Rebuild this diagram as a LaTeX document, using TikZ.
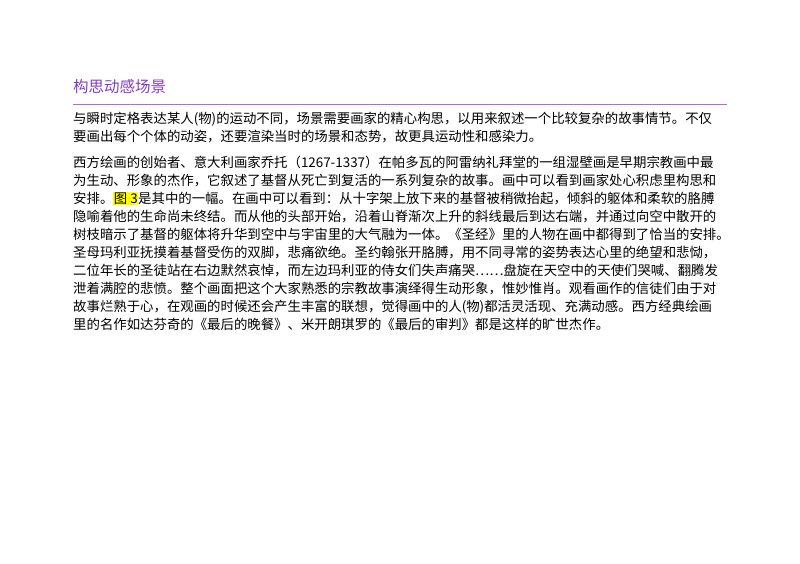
\documentclass[tikz,border=0pt]{standalone}
\usepackage{fontspec}
\setmainfont{Liberation Serif}
\newfontfamily\cjk{Noto Sans CJK SC}
\usetikzlibrary{positioning}
\definecolor{titlepurple}{RGB}{130,60,200}
\definecolor{rulepurple}{RGB}{170,110,220}
\definecolor{hl}{RGB}{255,255,0}
\tikzset{body/.style={anchor=base west, inner sep=0pt, font=\cjk\fontsize{13.4}{17}\selectfont},
  head/.style={anchor=base west, inner sep=0pt, text=titlepurple, font=\cjk\fontsize{15.5}{18}\selectfont}}

\begin{document}
\begin{tikzpicture}[x=1pt, y=-1pt]
\useasboundingbox (0,0) rectangle (800,563);

				\node[head] (title) at (73,92) {构思动感场景};
				\draw[rulepurple, line width=0.9pt] (73,104) coordinate (rs) -- (727,104) coordinate (re);

				% first paragraph
				\node[body] (p1a) at (73,123) {与瞬时定格表达某人(物)的运动不同，场景需要画家的精心构思，以用来叙述一个比较复杂的故事情节。不仅};
				\node[body] (p1b) at (73,141) {要画出每个个体的动姿，还要渲染当时的场景和态势，故更具运动性和感染力。};

				% second paragraph
				\node[body] (p2a) at (73,167) {西方绘画的创始者、意大利画家乔托（1267-1337）在帕多瓦的阿雷纳礼拜堂的一组湿壁画是早期宗教画中最};
				\node[body] (p2b) at (73,185) {为生动、形象的杰作，它叙述了基督从死亡到复活的一系列复杂的故事。画中可以看到画家处心积虑里构思和};
				\node[body] (p2c) at (73,203) {安排。{\fboxsep=0.5pt\colorbox{hl}{图\ 3}}是其中的一幅。在画中可以看到：从十字架上放下来的基督被稍微抬起，倾斜的躯体和柔软的胳膊};
				\node[body] (p2d) at (73,221) {隐喻着他的生命尚未终结。而从他的头部开始，沿着山脊渐次上升的斜线最后到达右端，并通过向空中散开的};
				\node[body] (p2e) at (73,239) {树枝暗示了基督的躯体将升华到空中与宇宙里的大气融为一体。《圣经》里的人物在画中都得到了恰当的安排。};
				\node[body] (p2f) at (73,257) {圣母玛利亚抚摸着基督受伤的双脚，悲痛欲绝。圣约翰张开胳膊，用不同寻常的姿势表达心里的绝望和悲恸，};
				\node[body] (p2g) at (73,275) {二位年长的圣徒站在右边默然哀悼，而左边玛利亚的侍女们失声痛哭……盘旋在天空中的天使们哭喊、翻腾发};
				\node[body] (p2h) at (73,293) {泄着满腔的悲愤。整个画面把这个大家熟悉的宗教故事演绎得生动形象，惟妙惟肖。观看画作的信徒们由于对};
				\node[body] (p2i) at (73,311) {故事烂熟于心，在观画的时候还会产生丰富的联想，觉得画中的人(物)都活灵活现、充满动感。西方经典绘画};
				\node[body] (p2j) at (73,329) {里的名作如达芬奇的《最后的晚餐》、米开朗琪罗的《最后的审判》都是这样的旷世杰作。};
\end{tikzpicture}
\end{document}
